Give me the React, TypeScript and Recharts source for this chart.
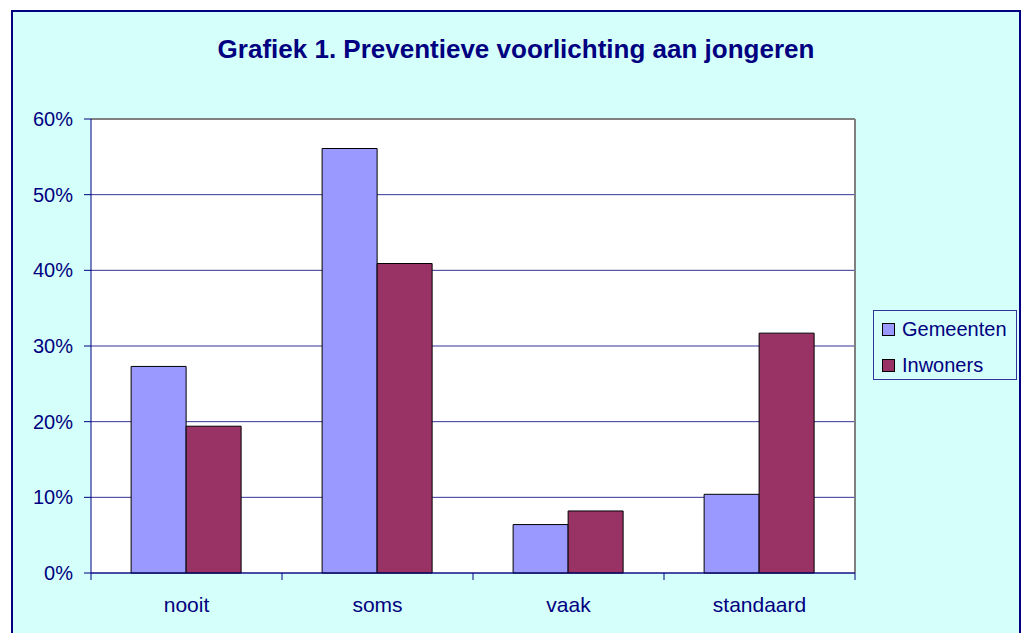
import {
  BarChart,
  Bar,
  XAxis,
  YAxis,
  CartesianGrid,
  Legend,
  ReferenceLine,
} from "recharts";

const categories = ["nooit", "soms", "vaak", "standaard"];
const gemeenten = [27.3, 56.1, 6.4, 10.4];
const inwoners = [19.4, 40.9, 8.2, 31.7];
const yTicks = [0, 10, 20, 30, 40, 50, 60];

const data = categories.map((name, i) => ({
  name,
  Gemeenten: gemeenten[i],
  Inwoners: inwoners[i],
}));

const FONT = "'Liberation Sans', Arial, sans-serif";
const NAVY = "#000080";
const GRID = "#333399";
const TICK_MARGIN = 24;

// Excel-style category tick: label in the middle, tick marks on the category boundaries
function CategoryTick(props: any) {
  const { x, y, payload, index, visibleTicksCount } = props;
  const half = payload.offset || 0;
  const axisY = y - TICK_MARGIN;
  const isLast = index === visibleTicksCount - 1;
  return (
    <g>
      <line x1={x - half} x2={x - half} y1={axisY} y2={axisY + 7} stroke={NAVY} />
      {isLast && <line x1={x + half} x2={x + half} y1={axisY} y2={axisY + 7} stroke={NAVY} />}
      <text
        x={x}
        y={y}
        dy="0.71em"
        textAnchor="middle"
        fill={NAVY}
        fontSize={21}
        fontFamily={FONT}
      >
        {payload.value}
      </text>
    </g>
  );
}

function LegendBox(props: any) {
  const items = props.payload || [];
  return (
    <div
      style={{
        boxSizing: "border-box",
        width: 144,
        height: 70,
        border: `1px solid ${GRID}`,
        fontFamily: FONT,
        fontSize: 20,
        color: NAVY,
      }}
    >
      {items.map((it: any) => (
        <div
          key={it.value}
          style={{ height: 36, display: "flex", alignItems: "center", paddingLeft: 8 }}
        >
          <span
            style={{
              display: "inline-block",
              width: 11,
              height: 11,
              background: it.color,
              border: "1px solid #000",
              marginRight: 7,
            }}
          />
          <span>{it.value}</span>
        </div>
      ))}
    </div>
  );
}

export default function App() {
  return (
    <div
      style={{
        position: "absolute",
        left: 11,
        top: 10,
        width: 1010,
        height: 640,
        boxSizing: "border-box",
        border: `2px solid ${NAVY}`,
        background: "#D5FFFA",
        fontFamily: FONT,
      }}
    >
      <div
        style={{
          position: "absolute",
          top: 24,
          left: 0,
          width: "100%",
          textAlign: "center",
          fontSize: 26,
          lineHeight: "26px",
          fontWeight: "bold",
          color: NAVY,
        }}
      >
        Grafiek 1. Preventieve voorlichting aan jongeren
      </div>
      <div style={{ position: "absolute", left: 0, top: 0 }}>
        <BarChart
          width={1006}
          height={624}
          data={data}
          margin={{ top: 107, right: 164, left: 18, bottom: 23 }}
          barGap={0}
          barCategoryGap="21%"
        >
          <CartesianGrid vertical={false} stroke={GRID} fill="#fff" />
          {/* grey plot-area border on the right */}
          <CartesianGrid
            horizontal={false}
            stroke="#808080"
            strokeWidth={2}
            verticalCoordinatesGenerator={({ offset }: any) => [offset.left + offset.width]}
          />
          <XAxis
            dataKey="name"
            height={40}
            tickLine={false}
            tickSize={0}
            tickMargin={TICK_MARGIN}
            axisLine={{ stroke: NAVY }}
            tick={<CategoryTick />}
          />
          <YAxis
            width={60}
            domain={[0, 60]}
            ticks={yTicks}
            tickFormatter={(v: number) => `${v}%`}
            tickSize={7}
            tickMargin={11}
            axisLine={{ stroke: NAVY }}
            tickLine={{ stroke: NAVY }}
            tick={{ fill: NAVY, fontSize: 20, fontFamily: FONT }}
          />
          <ReferenceLine y={60} stroke="#808080" strokeWidth={2} />
          <Legend
            layout="horizontal"
            verticalAlign="middle"
            align="center"
            wrapperStyle={{ left: 860, top: 298, width: 144, height: 70 }}
            content={<LegendBox />}
          />
          <Bar
            dataKey="Gemeenten"
            fill="#9999FF"
            stroke="#000"
            strokeWidth={1}
            isAnimationActive={false}
          />
          <Bar
            dataKey="Inwoners"
            fill="#993366"
            stroke="#000"
            strokeWidth={1}
            isAnimationActive={false}
          />
        </BarChart>
      </div>
    </div>
  );
}
